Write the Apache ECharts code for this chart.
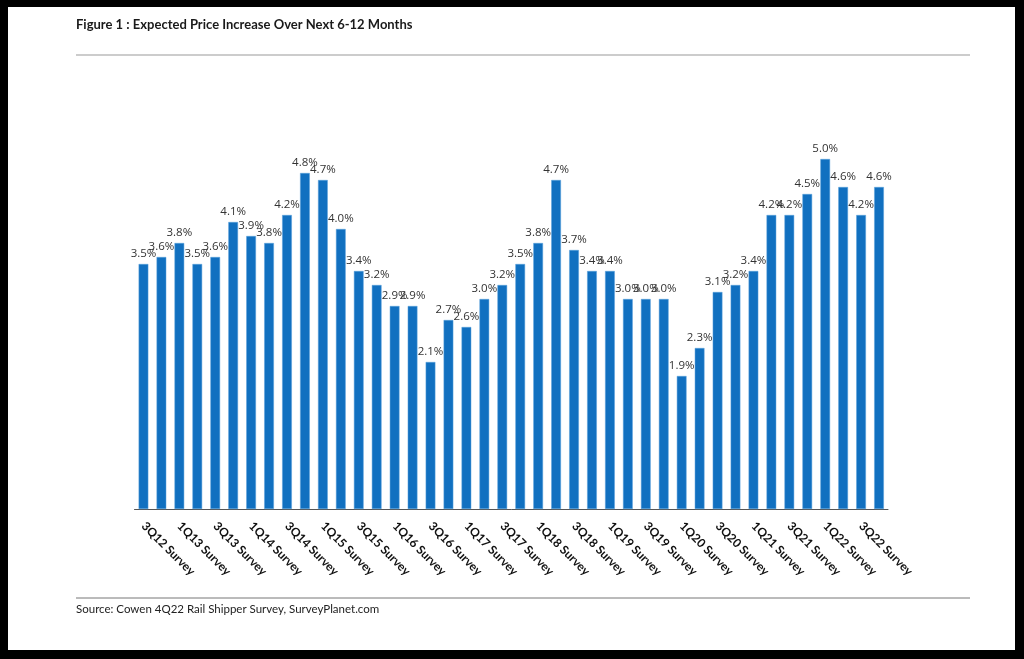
<!DOCTYPE html>
<html>
<head>
<meta charset="utf-8">
<script src="https://cdn.jsdelivr.net/npm/echarts@6/dist/echarts.min.js"></script>
<style>
html,body{margin:0;padding:0;background:#000;}
#chart{width:1024px;height:659px;}
</style>
</head>
<body>
<div id="chart"></div>
<script>
const categories = [
  '3Q12 Survey','4Q12 Survey','1Q13 Survey','2Q13 Survey','3Q13 Survey','4Q13 Survey',
  '1Q14 Survey','2Q14 Survey','3Q14 Survey','4Q14 Survey','1Q15 Survey','2Q15 Survey',
  '3Q15 Survey','4Q15 Survey','1Q16 Survey','2Q16 Survey','3Q16 Survey','4Q16 Survey',
  '1Q17 Survey','2Q17 Survey','3Q17 Survey','4Q17 Survey','1Q18 Survey','2Q18 Survey',
  '3Q18 Survey','4Q18 Survey','1Q19 Survey','2Q19 Survey','3Q19 Survey','4Q19 Survey',
  '1Q20 Survey','2Q20 Survey','3Q20 Survey','4Q20 Survey','1Q21 Survey','2Q21 Survey',
  '3Q21 Survey','4Q21 Survey','1Q22 Survey','2Q22 Survey','3Q22 Survey','4Q22 Survey'
];
const priceIncrease = [
  3.5,3.6,3.8,3.5,3.6,4.1,3.9,3.8,4.2,4.8,4.7,4.0,
  3.4,3.2,2.9,2.9,2.1,2.7,2.6,3.0,3.2,3.5,3.8,4.7,
  3.7,3.4,3.4,3.0,3.0,3.0,1.9,2.3,3.1,3.2,3.4,4.2,
  4.2,4.5,5.0,4.6,4.2,4.6
];
const titleText = 'Figure 1 : Expected Price Increase Over Next 6-12 Months';
const sourceText = 'Source: Cowen 4Q22 Rail Shipper Survey, SurveyPlanet.com';

const chart = echarts.init(document.getElementById('chart'));
chart.setOption({
  backgroundColor: '#000',
  animation: false,
  graphic: [
    {type: 'rect', z: -100, silent: true, shape: {x: 8, y: 7, width: 1007, height: 643}, style: {fill: '#fff'}},
    {type: 'text', left: 76, top: 18, style: {text: titleText, font: 'bold 13px Lato', fill: '#1a1a1a'}},
    {type: 'line', shape: {x1: 76, y1: 55, x2: 970, y2: 55}, style: {stroke: '#999', lineWidth: 1.2}},
    {type: 'line', shape: {x1: 76, y1: 598, x2: 970, y2: 598}, style: {stroke: '#777', lineWidth: 1}},
    {type: 'text', left: 76, top: 603, style: {text: sourceText, font: '11.5px Lato', fill: '#222'}}
  ],
  grid: {left: 134.5, right: 136, top: 159, bottom: 150},
  xAxis: {
    type: 'category',
    data: categories,
    axisLine: {show: true, lineStyle: {color: '#555', width: 1}},
    axisTick: {show: false},
    axisLabel: {
      interval: 1, rotate: -45, margin: 15,
      fontFamily: 'Lato', fontSize: 12, fontWeight: 'bold', color: '#111'
    }
  },
  yAxis: {type: 'value', min: 0, max: 5, show: false, splitLine: {show: false}},
  series: [{
    type: 'bar',
    data: priceIncrease,
    barWidth: '54%',
    itemStyle: {color: '#1170c0', borderColor: '#5aa0dc', borderWidth: 0.5},
    label: {
      show: true, position: 'top', distance: 4,
      formatter: p => p.value.toFixed(1) + '%',
      fontFamily: 'Open Sans', fontSize: 11.5, color: '#333'
    }
  }]
});
</script>
</body>
</html>
